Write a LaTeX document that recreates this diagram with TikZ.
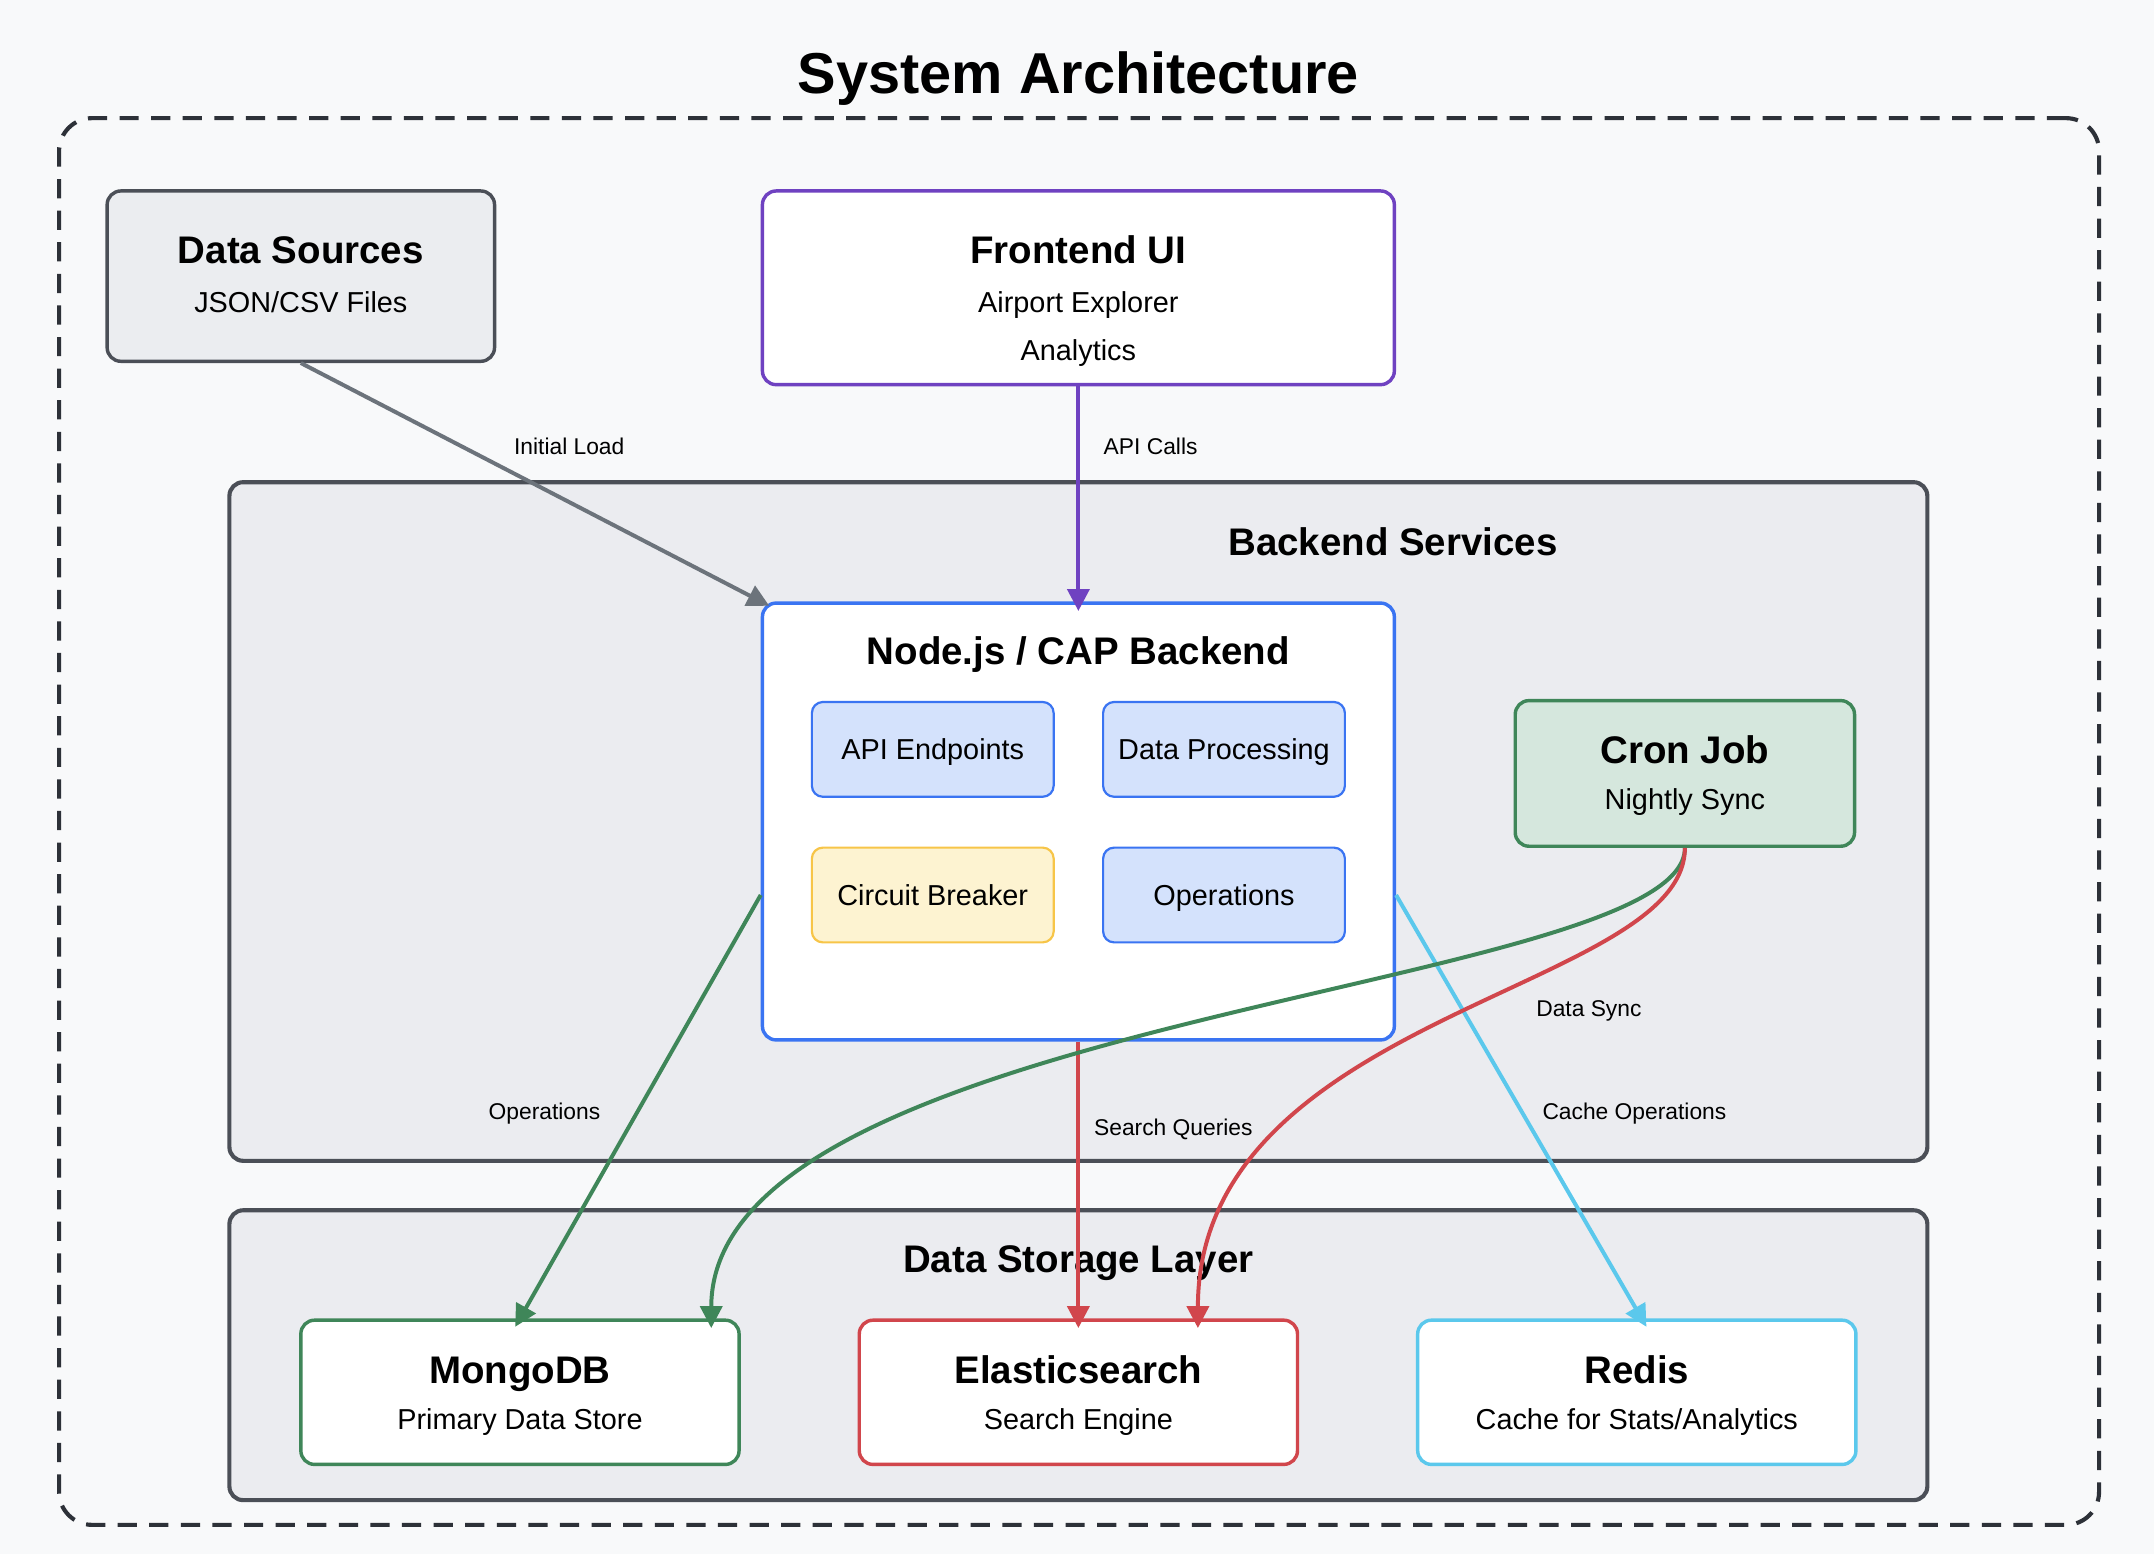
\documentclass[tikz,border=0pt]{standalone}
\usepackage{fontspec}
\setmainfont{Liberation Sans}
\usetikzlibrary{arrows.meta,calc,positioning}

\definecolor{bgpage}{HTML}{F8F9FA}
\definecolor{frame}{HTML}{2D3138}
\definecolor{panel}{HTML}{EBECF0}
\definecolor{panelline}{HTML}{4B4F57}
\definecolor{srcfill}{HTML}{EBEDF0}
\definecolor{purp}{HTML}{6F42C1}
\definecolor{blu}{HTML}{3A74F2}
\definecolor{blufill}{HTML}{D4E2FC}
\definecolor{yel}{HTML}{F7C548}
\definecolor{yelfill}{HTML}{FDF3D1}
\definecolor{grn}{HTML}{3F8659}
\definecolor{grnfill}{HTML}{D5E7DD}
\definecolor{rd}{HTML}{D1464C}
\definecolor{cyn}{HTML}{5BC8EC}
\definecolor{gry}{HTML}{6C737B}

\begin{document}
\begin{tikzpicture}[x=0.5pt,y=-0.5pt,
  box/.style={draw, rounded corners=5pt, line width=1.25pt, fill=white, inner sep=0pt},
  panelbox/.style={draw=panelline, fill=panel, rounded corners=5pt, line width=1.5pt, inner sep=0pt, minimum width=618pt},
  minibox/.style={draw=blu, fill=blufill, rounded corners=4pt, line width=0.8pt, minimum width=88pt, minimum height=34.5pt,
    font=\fontsize{10.5}{13}\selectfont, text height=7.5pt, text depth=0pt},
  ttl/.style={font=\fontsize{14}{17}\selectfont\bfseries, text height=10pt, text depth=0pt},
  subtxt/.style={font=\fontsize{10.5}{13}\selectfont, text height=7.5pt, text depth=0pt},
  lbl/.style={font=\fontsize{8.3}{10}\selectfont, text=black, inner sep=1pt, text height=6pt, text depth=0pt},
  edge/.style={line width=1.45pt, -{Triangle[length=8pt,width=8pt]}, shorten >=-3.5pt},
]
\fill[bgpage] (0,0) rectangle (1568,1131);
\useasboundingbox (0,0) rectangle (1568,1131);

% title and outer frame
\node[font=\fontsize{21}{25}\selectfont\bfseries, text height=15pt, text depth=0pt] (title) at (785,53) {System Architecture};
\node[draw=frame, line width=1.5pt, dash pattern=on 7pt off 4.5pt, rounded corners=12pt,
  minimum width=742.5pt, minimum height=512pt] (outer) at (785.5,598) {};

% top row
\node[box, draw=panelline, fill=srcfill, minimum width=141pt, minimum height=62pt] (src) at (219,201) {};
\node[ttl] (src-t) at (219,182) {Data Sources};
\node[subtxt] (src-s) at (219,220) {JSON/CSV Files};

\node[box, draw=purp, minimum width=230pt, minimum height=70.5pt] (fe) at (785,209.5) {};
\node[ttl] (fe-t) at (785,182) {Frontend UI};
\node[subtxt] (fe-s1) at (785,220) {Airport Explorer};
\node[subtxt] (fe-s2) at (785,255) {Analytics};

% backend panel
\node[panelbox, minimum height=247pt] (backend) at (785,598) {};
\node[ttl] (backend-t) at (1014,394) {Backend Services};

\node[box, draw=blu, minimum width=230pt, minimum height=159pt] (nodejs) at (785,598) {};
\node[ttl] (nodejs-t) at (785,474) {Node.js / CAP Backend};
\node[minibox] (api) at (679,545.5) {API Endpoints};
\node[minibox] (dproc) at (891,545.5) {Data Processing};
\node[minibox, draw=yel, fill=yelfill] (cbreak) at (679,651.5) {Circuit Breaker};
\node[minibox] (ops) at (891,651.5) {Operations};

\node[box, draw=grn, fill=grnfill, minimum width=123.5pt, minimum height=53pt] (cron) at (1226.5,563) {};
\node[ttl] (cron-t) at (1226.5,546) {Cron Job};
\node[subtxt] (cron-s) at (1226.5,582) {Nightly Sync};

% storage panel
\node[panelbox, minimum height=105.5pt] (storage) at (785,986.5) {};
\node[ttl] (storage-t) at (785,916) {Data Storage Layer};

\node[box, draw=grn, minimum width=159.5pt, minimum height=52.5pt] (mongo) at (378.5,1013.5) {};
\node[ttl] (mongo-t) at (378.5,997) {MongoDB};
\node[subtxt] (mongo-s) at (378.5,1033) {Primary Data Store};

\node[box, draw=rd, minimum width=159.5pt, minimum height=52.5pt] (es) at (785,1013.5) {};
\node[ttl] (es-t) at (785,997) {Elasticsearch};
\node[subtxt] (es-s) at (785,1033) {Search Engine};

\node[box, draw=cyn, minimum width=159.5pt, minimum height=52.5pt] (redis) at (1191.5,1013.5) {};
\node[ttl] (redis-t) at (1191.5,997) {Redis};
\node[subtxt] (redis-s) at (1191.5,1033) {Cache for Stats/Analytics};

% connectors
\draw[edge, gry] (src.south) -- node[lbl, pos=0.5, xshift=14pt, yshift=13pt] (lbl-init) {Initial Load} (nodejs.north west);
\draw[edge, purp] (fe.south) -- node[lbl, pos=0.28, right=7.5pt] (lbl-api) {API Calls} (nodejs.north);
\draw[edge, grn] (nodejs.west |- cbreak.center) -- node[lbl, pos=0.51, left=12pt] (lbl-mongo) {Operations} (mongo.north);
\draw[edge, rd] (nodejs.south) -- node[lbl, pos=0.31, right=4pt] (lbl-search) {Search Queries} (es.north);
\draw[edge, cyn] (nodejs.east |- ops.center) -- node[lbl, pos=0.51, right=6pt] (lbl-cache) {Cache Operations} ([xshift=1.75pt]redis.north);
\draw[edge, grn] (cron.south) .. controls +(0,104) and +(0,-222) .. ([xshift=-10.75pt]mongo.north east);
\draw[edge, rd] (cron.south) .. controls +(0,104) and +(0,-222) .. node[lbl, pos=0.35, xshift=15pt, yshift=-13.5pt] (lbl-sync) {Data Sync} ([xshift=43.5pt]es.north);
\end{tikzpicture}
\end{document}
